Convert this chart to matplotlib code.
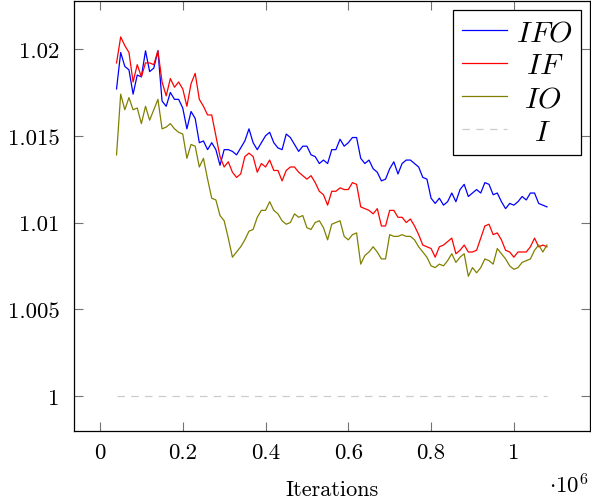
import numpy as np
import matplotlib
matplotlib.use("Agg")
import matplotlib.pyplot as plt

# --- DATA ---
iterations = np.arange(40_000, 1_090_000, 10_000)

ifo = [1.0177, 1.0198, 1.0190, 1.0188, 1.0174, 1.0185, 1.0184, 1.0199, 1.0187, 1.0189,
       1.0199, 1.0170, 1.0167, 1.0175, 1.0171, 1.0171, 1.0166, 1.0154, 1.0164, 1.0160,
       1.0146, 1.0147, 1.0142, 1.0146, 1.0142, 1.0133, 1.0142, 1.0142, 1.0141, 1.0139,
       1.0143, 1.0147, 1.0154, 1.0146, 1.0142, 1.0146, 1.0150, 1.0152, 1.0146, 1.0143,
       1.0142, 1.0151, 1.0149, 1.0145, 1.0141, 1.0144, 1.0144, 1.0139, 1.0138, 1.0134,
       1.0136, 1.0134, 1.0142, 1.0142, 1.0148, 1.0144, 1.0146, 1.0149, 1.0149, 1.0137,
       1.0134, 1.0136, 1.0131, 1.0129, 1.0124, 1.0125, 1.0131, 1.0135, 1.0128, 1.0134,
       1.0136, 1.0136, 1.0134, 1.0132, 1.0126, 1.0125, 1.0114, 1.0111, 1.0114, 1.0110,
       1.0112, 1.0117, 1.0112, 1.0119, 1.0122, 1.0115, 1.0117, 1.0119, 1.0117, 1.0123,
       1.0122, 1.0116, 1.0117, 1.0112, 1.0108, 1.0111, 1.0110, 1.0112, 1.0115, 1.0113,
       1.0117, 1.0117, 1.0111, 1.0110, 1.0109]

if_ = [1.0192, 1.0207, 1.0202, 1.0198, 1.0181, 1.0191, 1.0184, 1.0192, 1.0192, 1.0191,
       1.0199, 1.0181, 1.0173, 1.0183, 1.0178, 1.0181, 1.0177, 1.0167, 1.0180, 1.0186,
       1.0171, 1.0167, 1.0162, 1.0162, 1.0150, 1.0138, 1.0132, 1.0135, 1.0129, 1.0126,
       1.0128, 1.0138, 1.0140, 1.0138, 1.0129, 1.0134, 1.0132, 1.0136, 1.0130, 1.0130,
       1.0124, 1.0130, 1.0132, 1.0132, 1.0129, 1.0127, 1.0125, 1.0127, 1.0123, 1.0118,
       1.0116, 1.0110, 1.0118, 1.0118, 1.0120, 1.0119, 1.0119, 1.0123, 1.0122, 1.0109,
       1.0108, 1.0107, 1.0105, 1.0108, 1.0098, 1.0098, 1.0107, 1.0107, 1.0103, 1.0103,
       1.0100, 1.0102, 1.0098, 1.0093, 1.0087, 1.0086, 1.0085, 1.0080, 1.0086, 1.0087,
       1.0089, 1.0091, 1.0082, 1.0084, 1.0087, 1.0083, 1.0083, 1.0084, 1.0091, 1.0098,
       1.0099, 1.0093, 1.0094, 1.0090, 1.0084, 1.0083, 1.0080, 1.0083, 1.0083, 1.0083,
       1.0086, 1.0091, 1.0086, 1.0087, 1.0086]

io = [1.0139, 1.0174, 1.0165, 1.0172, 1.0165, 1.0166, 1.0157, 1.0167, 1.0159, 1.0165,
      1.0171, 1.0154, 1.0155, 1.0157, 1.0154, 1.0152, 1.0151, 1.0137, 1.0145, 1.0144,
      1.0132, 1.0137, 1.0125, 1.0114, 1.0113, 1.0104, 1.0101, 1.0091, 1.0080, 1.0083,
      1.0086, 1.0090, 1.0095, 1.0096, 1.0103, 1.0107, 1.0107, 1.0112, 1.0107, 1.0105,
      1.0101, 1.0099, 1.0100, 1.0105, 1.0103, 1.0104, 1.0097, 1.0096, 1.0100, 1.0101,
      1.0097, 1.0090, 1.0099, 1.0100, 1.0101, 1.0092, 1.0090, 1.0093, 1.0094, 1.0076,
      1.0081, 1.0083, 1.0086, 1.0083, 1.0079, 1.0079, 1.0093, 1.0092, 1.0092, 1.0093,
      1.0092, 1.0092, 1.0090, 1.0086, 1.0083, 1.0080, 1.0075, 1.0074, 1.0076, 1.0075,
      1.0078, 1.0082, 1.0077, 1.0080, 1.0082, 1.0069, 1.0074, 1.0071, 1.0074, 1.0079,
      1.0078, 1.0076, 1.0085, 1.0082, 1.0079, 1.0075, 1.0073, 1.0074, 1.0077, 1.0078,
      1.0079, 1.0084, 1.0087, 1.0083, 1.0087]

baseline_i = [1.0] * len(iterations)

x_ticks = [0, 200_000, 400_000, 600_000, 800_000, 1_000_000]
x_tick_labels = ["0", "0.2", "0.4", "0.6", "0.8", "1"]
y_ticks = [1.0, 1.005, 1.01, 1.015, 1.02]
y_tick_labels = ["1", "1.005", "1.01", "1.015", "1.02"]

# --- STYLE ---
plt.rcParams["font.family"] = "serif"
plt.rcParams["font.serif"] = ["cmr10", "DejaVu Serif"]
plt.rcParams["mathtext.fontset"] = "cm"
plt.rcParams["axes.formatter.use_mathtext"] = True

fig = plt.figure(figsize=(5.91, 5.02), dpi=100)
ax = fig.add_axes([73.5 / 591, 70 / 502, (590 - 73.5) / 591, 430 / 502])

# leading math spaces roughly centre the shorter legend labels, like pgfplots does
ax.plot(iterations, ifo, color=(0, 0, 1), lw=0.9, label=r"$IFO$")
ax.plot(iterations, if_, color=(1, 0, 0), lw=0.9, label=r"$\:\,IF$")
ax.plot(iterations, io, color=(0.5, 0.5, 0), lw=0.9, label=r"$\,\,IO$")
ax.plot(iterations, baseline_i, color="0.8", lw=0.9, ls=(0, (6, 5)), label=r"$\;\;\,I$")

span = 1_040_000
ax.set_xlim(40_000 - 0.1 * span, 1_080_000 + 0.1 * span)
ax.set_ylim(0.99798, 1.02277)

ax.set_xticks(x_ticks)
ax.set_xticklabels(x_tick_labels)
ax.set_yticks(y_ticks)
ax.set_yticklabels(y_tick_labels)
ax.tick_params(direction="in", length=6.5, width=0.8, color="0.45",
               labelsize=16.5, top=True, right=True)
ax.tick_params(axis="x", pad=8)
ax.tick_params(axis="y", pad=10)
for s in ax.spines.values():
    s.set_linewidth(0.9)

ax.set_xlabel("Iterations", fontsize=16, labelpad=13)
fig.text(569 / 591, 8 / 502, r"$\cdot 10^{6}$", fontsize=16.5, ha="center", va="baseline")

leg = ax.legend(loc="upper right", fontsize=21.5, frameon=True, fancybox=False,
                edgecolor="black", framealpha=1, handlelength=1.5, handletextpad=0.3,
                borderpad=0.3, labelspacing=0.19, borderaxespad=0.3)
leg.get_frame().set_linewidth(0.9)

fig.savefig("out.png", dpi=100)
